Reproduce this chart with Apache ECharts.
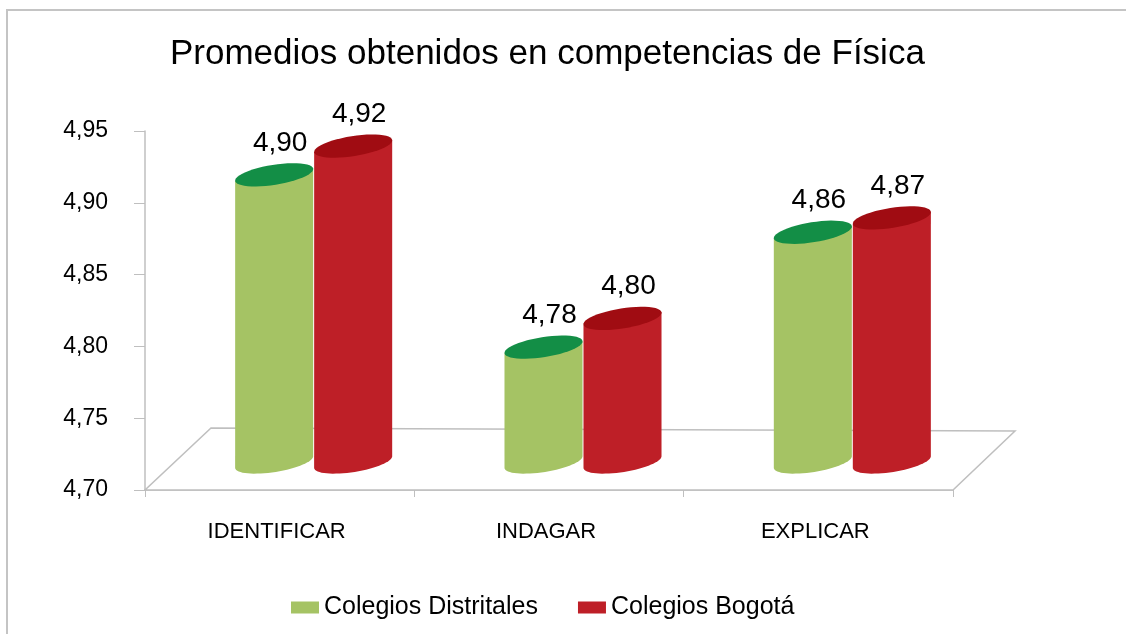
<!DOCTYPE html>
<html>
<head>
<meta charset="utf-8">
<script src="https://cdn.jsdelivr.net/npm/echarts@6/dist/echarts.min.js"></script>
<style>
  html, body { margin: 0; padding: 0; background: #fff; }
  #chart { width: 1126px; height: 634px; }
</style>
</head>
<body>
<div id="chart"></div>
<script>
// datos
var categorias = ['IDENTIFICAR', 'INDAGAR', 'EXPLICAR'];
var distritales = [4.90, 4.78, 4.86];
var bogota = [4.92, 4.80, 4.87];
var ejeY = { min: 4.70, max: 4.95, paso: 0.05 };

var FONT = '"Liberation Sans", Arial, sans-serif';
// desplazamiento de profundidad (pseudo 3D)
var DX = 34, DY = -28;
var RX = 39.5, RY = 10, TILT = -9 * Math.PI / 180;

function coma(v) {
  return v.toFixed(2).replace('.', ',');
}

// puntos de una elipse inclinada
function elipse(cx, cy, t0, t1, n) {
  var pts = [];
  for (var i = 0; i <= n; i++) {
    var t = t0 + (t1 - t0) * i / n;
    var c = Math.cos(t), s = Math.sin(t);
    pts.push([
      cx + RX * c * Math.cos(TILT) - RY * s * Math.sin(TILT),
      cy + RX * c * Math.sin(TILT) + RY * s * Math.cos(TILT)
    ]);
  }
  return pts;
}

function cilindro(lado, cuerpo, tapa) {
  return function (params, api) {
    var cat = api.value(0), val = api.value(1);
    var p = api.coord([cat, val]);
    var b = api.coord([cat, ejeY.min]);
    var cx = p[0] + DX + lado * RX;
    var yTop = p[1] + DY;
    var yBase = b[1] + DY;
    var top = elipse(cx, yTop, 0, Math.PI * 2, 48);
    var fondo = elipse(cx, yBase, 0, Math.PI, 32);
    var body = [top[0]].concat(fondo).concat([top[24]]);
    return {
      type: 'group',
      children: [
        { type: 'polygon', shape: { points: body }, style: { fill: cuerpo } },
        { type: 'polygon', shape: { points: top }, style: { fill: tapa } },
        {
          type: 'text',
          style: {
            text: coma(val), x: cx + 6, y: yTop - 32,
            align: 'center', verticalAlign: 'middle',
            fill: '#000', font: '28px ' + FONT
          }
        }
      ]
    };
  };
}

var myChart = echarts.init(document.getElementById('chart'));

var option = {
  backgroundColor: '#fff',
  animation: false,
  title: {
    text: 'Promedios obtenidos en competencias de Física',
    left: 165, top: 32,
    textStyle: { fontFamily: FONT, fontSize: 35, fontWeight: 'normal', color: '#000' }
  },
  legend: {
    data: ['Colegios Distritales', 'Colegios Bogotá'],
    left: 286, top: 590,
    icon: 'rect', itemWidth: 28, itemHeight: 12, itemGap: 40, itemTextGap: 8,
    textStyle: { fontFamily: FONT, fontSize: 25, color: '#000' }
  },
  grid: { left: 145, right: 173, top: 131, bottom: 144 },
  xAxis: {
    type: 'category',
    data: categorias,
    axisLine: { show: true, lineStyle: { color: '#bfbfbf', width: 1.5 } },
    axisTick: { show: true, length: 7, lineStyle: { color: '#bfbfbf' } },
    axisLabel: {
      fontFamily: FONT, fontSize: 22, color: '#000', margin: 31,
      padding: [0, 6, 0, 0]
    }
  },
  yAxis: {
    type: 'value',
    min: ejeY.min, max: ejeY.max, interval: ejeY.paso,
    axisLine: { show: true, lineStyle: { color: '#bfbfbf', width: 1.5 } },
    axisTick: { show: true, length: 11, lineStyle: { color: '#bfbfbf' } },
    splitLine: { show: false },
    axisLabel: { fontFamily: FONT, fontSize: 23, color: '#000', margin: 37, formatter: coma }
  },
  graphic: [
    {
      type: 'rect', silent: true, z: -10,
      shape: { x: 7, y: 10, width: 1300, height: 800 },
      style: { fill: 'none', stroke: '#c4c4c4', lineWidth: 2 }
    }
  ],
  series: [
    {
      // piso del grafico
      type: 'custom', name: 'piso', silent: true,
      data: [[0, ejeY.min]],
      renderItem: function (params, api) {
        var r = params.coordSys;
        var y0 = r.y + r.height;
        return {
          type: 'polygon',
          shape: { points: [
            [r.x, y0], [r.x + r.width, y0],
            [r.x + r.width + 62, y0 - 59], [r.x + 66, y0 - 62]
          ] },
          style: { fill: '#fff', stroke: '#bfbfbf', lineWidth: 1.5 }
        };
      }
    },
    {
      type: 'custom', name: 'Colegios Distritales',
      itemStyle: { color: '#a5c364' },
      data: distritales.map(function (v, i) { return [i, v]; }),
      renderItem: cilindro(-1, '#a5c364', '#138e46')
    },
    {
      type: 'custom', name: 'Colegios Bogotá',
      itemStyle: { color: '#be1f27' },
      data: bogota.map(function (v, i) { return [i, v]; }),
      renderItem: cilindro(1, '#be1f27', '#a00c12')
    }
  ]
};

myChart.setOption(option);
</script>
</body>
</html>
